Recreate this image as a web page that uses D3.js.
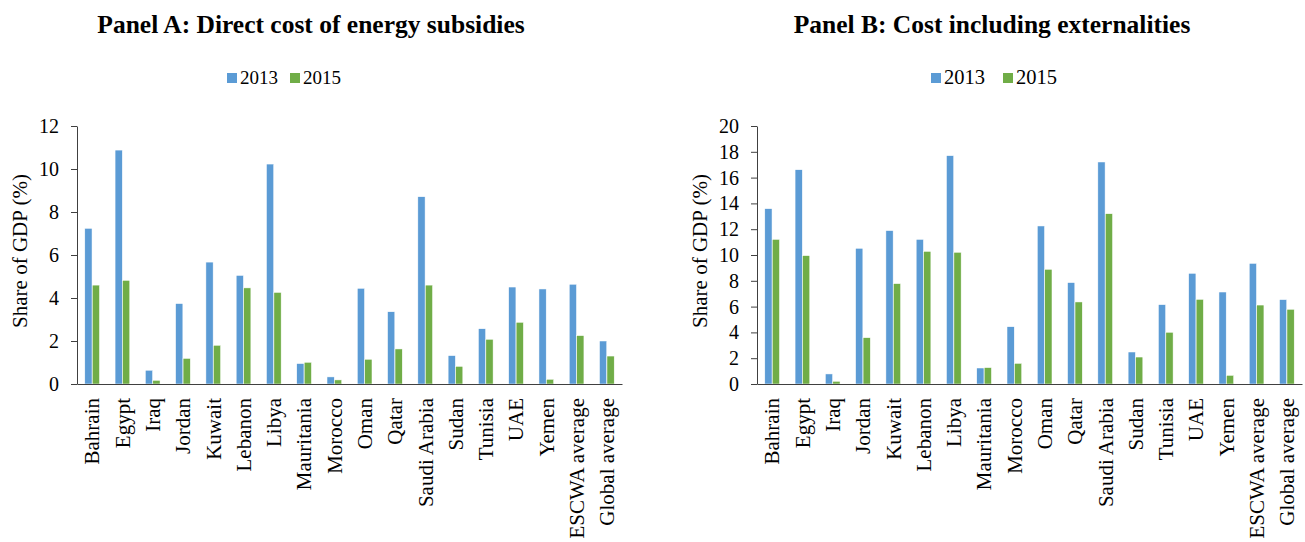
<!DOCTYPE html>
<html>
<head>
<meta charset="utf-8">
<script src="https://cdn.jsdelivr.net/npm/d3@7"></script>
<style>
	body { margin: 0; background: #fff; }
	.axis path, .axis line { stroke: #404040; }
	.axis text { fill: #000; }
</style>
</head>
<body>
<svg width="1305" height="542"></svg>
<script>
// categories shared by both panels
var categories = ["Bahrain", "Egypt", "Iraq", "Jordan", "Kuwait", "Lebanon", "Libya", "Mauritania",
	"Morocco", "Oman", "Qatar", "Saudi Arabia", "Sudan", "Tunisia", "UAE", "Yemen",
	"ESCWA average", "Global average"];
var years = ["2013", "2015"];
var colors = ["#5B9BD5", "#70AD47"];

// Panel A: direct cost, share of GDP (%)
var direct2013 = [7.24, 10.88, 0.64, 3.74, 5.67, 5.05, 10.23, 0.95, 0.33, 4.45, 3.36, 8.71, 1.32, 2.57, 4.51, 4.42, 4.64, 2.0];
var direct2015 = [4.60, 4.82, 0.17, 1.19, 1.80, 4.47, 4.26, 1.01, 0.19, 1.15, 1.63, 4.60, 0.82, 2.08, 2.87, 0.22, 2.25, 1.30];

// Panel B: cost including externalities, share of GDP (%)
var external2013 = [13.59, 16.61, 0.78, 10.52, 11.89, 11.21, 17.70, 1.24, 4.44, 12.25, 7.86, 17.21, 2.48, 6.15, 8.58, 7.13, 9.35, 6.54];
var external2015 = [11.21, 9.95, 0.21, 3.59, 7.78, 10.28, 10.21, 1.27, 1.60, 8.89, 6.36, 13.20, 2.09, 4.01, 6.56, 0.67, 6.12, 5.79];

var ticksA = [0, 2, 4, 6, 8, 10, 12];
var ticksB = [0, 2, 4, 6, 8, 10, 12, 14, 16, 18, 20];

var serif = "'Liberation Serif', 'Times New Roman', serif";
var svg = d3.select("svg").attr("font-family", serif);

var panels = [
	{
		title: "Panel A: Direct cost of energy subsidies", titleX: 311,
		left: 77, series: [direct2013, direct2015], ticks: ticksA,
		legendX: 227, legendStep: 63, legendFont: 19, yTitleX: 20
	},
	{
		title: "Panel B: Cost including externalities", titleX: 992,
		left: 757, series: [external2013, external2015], ticks: ticksB,
		legendX: 931, legendStep: 72, legendFont: 20.5, yTitleX: 700
	}
];

var plotTop = 126, plotW = 545, plotH = 258;

panels.forEach(function(p) {
	// title
	svg.append("text")
		.attr("x", p.titleX).attr("y", 33)
		.attr("text-anchor", "middle")
		.attr("font-weight", "bold")
		.attr("font-size", 25.5)
		.text(p.title);

	// legend
	var lg = svg.append("g");
	years.forEach(function(yr, i) {
		var x0 = p.legendX + i * p.legendStep;
		lg.append("rect").attr("x", x0).attr("y", 73).attr("width", 10).attr("height", 10).attr("fill", colors[i]);
		lg.append("text").attr("x", x0 + 13).attr("y", 84).attr("font-size", p.legendFont).text(yr);
	});

	var g = svg.append("g").attr("transform", "translate(" + p.left + "," + plotTop + ")");

	var x = d3.scaleBand().domain(categories).range([0, plotW]).paddingInner(0.5).paddingOuter(0.25);
	var xs = d3.scaleBand().domain(years).range([0, x.bandwidth()]).padding(0.03);
	var y = d3.scaleLinear().domain([0, d3.max(p.ticks)]).range([plotH, 0]);

	// bars
	years.forEach(function(yr, i) {
		g.append("g").selectAll("rect")
			.data(categories.map(function(c, j) { return { cat: c, v: p.series[i][j] }; }))
			.join("rect")
			.attr("x", function(d) { return x(d.cat) + xs(yr); })
			.attr("y", function(d) { return y(d.v); })
			.attr("width", xs.bandwidth())
			.attr("height", function(d) { return plotH - y(d.v); })
			.attr("fill", colors[i])
			.attr("stroke", "#fff")
			.attr("stroke-width", 0.5);
	});

	// y axis
	g.append("g").attr("class", "axis")
		.call(d3.axisLeft(y).tickValues(p.ticks).tickSize(6).tickPadding(12).tickSizeOuter(0))
		.attr("font-family", serif)
		.attr("font-size", 20);

	// x axis
	var xa = g.append("g").attr("class", "axis")
		.attr("transform", "translate(0," + plotH + ")")
		.call(d3.axisBottom(x).tickSize(0).tickPadding(0).tickSizeOuter(0))
		.attr("font-family", serif)
		.attr("font-size", 21);
	xa.selectAll("text")
		.attr("text-anchor", "end")
		.attr("transform", "rotate(-90)")
		.attr("x", -14)
		.attr("y", 0)
		.attr("dy", "0.35em");

	// y title
	svg.append("text")
		.attr("transform", "translate(" + p.yTitleX + "," + (plotTop + plotH / 2 - 4) + ") rotate(-90)")
		.attr("text-anchor", "middle")
		.attr("dy", "0.35em")
		.attr("font-size", 21)
		.text("Share of GDP (%)");
});
</script>
</body>
</html>
